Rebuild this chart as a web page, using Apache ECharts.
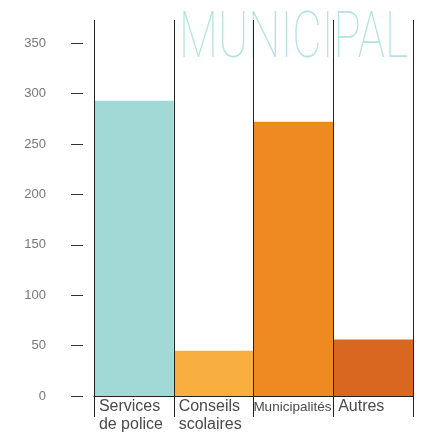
<!DOCTYPE html>
<html>
<head>
<meta charset="utf-8">
<script src="https://cdn.jsdelivr.net/npm/echarts@6/dist/echarts.min.js"></script>
<style>
  html, body { margin: 0; padding: 0; background: #fff; }
  #chart { width: 422px; height: 434px; }
</style>
</head>
<body>
<div id="chart"></div>
<script>
// donnees
const categories = ['Services\nde police', 'Conseils\nscolaires', 'Municipalités', 'Autres'];
const values = [293, 45, 272, 56];
const yTicks = [0, 50, 100, 150, 200, 250, 300, 350];
const barColors = ['#a0d9d5', '#f9ae40', '#ef8921', '#d9671f'];

const chart = echarts.init(document.getElementById('chart'));

const option = {
    animation: false,
    grid: { left: 94, right: 9, top: 20, bottom: 36 },
    graphic: [{
        type: 'text',
        z: -10,
        x: 179,
        y: 9,
        scaleX: 0.71,
        style: {
            text: 'MUNICIPAL',
            font: '100 64px Roboto, "Liberation Sans", sans-serif',
            fill: '#b3e3e0'
        }
    }],
    xAxis: {
        type: 'category',
        data: categories,
        z: 5,
        axisLine: { lineStyle: { color: '#222', width: 1 } },
        axisTick: { show: true, interval: 0, length: 21, lineStyle: { color: '#222', width: 1 } },
        splitLine: { show: true, interval: 0, lineStyle: { color: '#222', width: 1 } },
        axisLabel: {
            interval: 0,
            align: 'left',
            margin: 2,
            padding: [0, 0, 0, -35],
            color: '#4a4a4a',
            fontFamily: '"Liberation Sans", Arial, sans-serif',
            fontSize: 16,
            lineHeight: 18,
            formatter: function (v) {
                return v === 'Municipalités' ? '{m|' + v + '}' : v;
            },
            rich: {
                m: {
                    fontSize: 13.5,
                    lineHeight: 18,
                    padding: [0, 0, 0, -5],
                    color: '#4a4a4a',
                    fontFamily: '"Liberation Sans", Arial, sans-serif'
                }
            }
        }
    },
    yAxis: {
        type: 'value',
        min: 0,
        max: 373,
        interval: 50,
        offset: 11,
        axisLine: { show: false },
        splitLine: { show: false },
        axisTick: {
            show: true,
            length: 12,
            customValues: yTicks,
            lineStyle: { color: '#333', width: 1 }
        },
        axisLabel: {
            customValues: yTicks,
            margin: 37,
            color: '#777',
            fontFamily: '"Liberation Sans", Arial, sans-serif',
            fontSize: 13
        }
    },
    series: [{
        type: 'bar',
        barCategoryGap: '0%',
        data: values.map(function (v, i) {
            return { value: v, itemStyle: { color: barColors[i] } };
        })
    }]
};

chart.setOption(option);
</script>
</body>
</html>
